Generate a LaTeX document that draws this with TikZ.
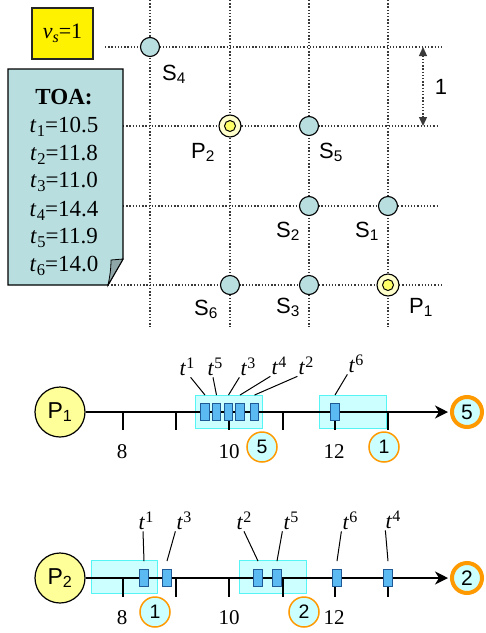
\documentclass[tikz,border=0pt]{standalone}
\usepackage{fontspec}
\setmainfont{Liberation Serif}
\setsansfont{Liberation Sans}
\usetikzlibrary{arrows.meta}
\definecolor{sens}{HTML}{B8DEE0}
\definecolor{ltyel}{HTML}{FFFF99}
\definecolor{ringyel}{HTML}{FFFFCC}
\definecolor{inyel}{HTML}{FFFF66}
\definecolor{org}{HTML}{FF9900}
\definecolor{cyfill}{HTML}{CCFFFF}
\definecolor{cyedge}{HTML}{55F5F5}
\definecolor{rblue}{HTML}{5BBAF2}
\definecolor{rblueedge}{HTML}{1F5A96}
\definecolor{foldc}{HTML}{8FA6A8}
\definecolor{dotc}{HTML}{3A3A3A}
\newcommand{\tsupl}[1]{\textit{t}\kern0.3pt\raisebox{7.5pt}{\fontsize{16}{16}\selectfont #1}}
\newcommand{\tsubl}[1]{\textit{t}\kern0.3pt\raisebox{-4.5pt}{\fontsize{16.5}{16.5}\selectfont #1}}
\begin{document}
\begin{tikzpicture}[x=1pt,y=-1pt,
 gridline/.style={dotc, line width=1.3pt, dash pattern=on 1.3pt off 1.9pt},
 sensor/.style={circle, draw, line width=1.1pt, fill=sens, minimum size=19pt, inner sep=0pt},
 pmark/.style={circle, draw, line width=1.1pt, fill=ringyel, minimum size=22pt, inner sep=0pt,
   path picture={\draw[line width=1pt, fill=inyel] (path picture bounding box.center) circle (5.5pt);}},
 slabel/.style={font=\sffamily\fontsize{22}{22}\selectfont, inner sep=0pt, anchor=base west},
 bigP/.style={circle, draw, line width=1.2pt, fill=ltyel, minimum size=50pt, inner sep=0pt, font=\sffamily\fontsize{23}{23}\selectfont},
 endc/.style={circle, draw=org, line width=4pt, fill=cyfill, minimum size=30pt, inner sep=0pt, font=\sffamily\fontsize{21}{21}\selectfont},
 smallc/.style={circle, draw=org, line width=1.5pt, fill=cyfill, minimum size=30pt, inner sep=0pt, font=\sffamily\fontsize{19.5}{19.5}\selectfont},
 cybox/.style={draw=cyedge, line width=1pt, fill=cyfill},
 tmark/.style={rectangle, draw=rblueedge, line width=0.9pt, fill=rblue, minimum width=8.5pt, minimum height=17pt, inner sep=0pt},
 tlab/.style={font=\fontsize{22}{22}\selectfont, inner sep=1pt},
 num/.style={font=\fontsize{21}{21}\selectfont, inner sep=0pt},
 toatext/.style={font=\fontsize{23}{23}\selectfont, inner sep=0pt, anchor=base},
 axisline/.style={line width=1.4pt, -{Stealth[length=13pt,width=13pt,inset=4pt]}, shorten >=2pt},
 tickline/.style={line width=1.4pt},
 leader/.style={line width=1pt},
]
\useasboundingbox (0,0) rectangle (486,633);
% ---------------- grid ----------------
\foreach \x in {150,230,309,388} \draw[gridline] (\x,0) -- (\x,327);
\draw[gridline] (105,47) -- (442,47);
\draw[gridline] (123,126) -- (439,126);
\draw[gridline] (123,206) -- (439,206);
\draw[gridline] (108,285) -- (442,285);
% dimension
\coordinate (d1) at (423,47);
\coordinate (d2) at (423,126);
\draw[gridline, {Triangle[length=9pt,width=8pt]}-{Triangle[length=9pt,width=8pt]}] (d1) -- (d2);
\node[font=\sffamily\fontsize{22}{22}\selectfont, inner sep=0pt] (dlab) at (441,87) {1};
% sensors
\node[sensor] (S4) at (150,47) {};
\node[pmark]  (P2m) at (230,126) {};
\node[sensor] (S5) at (309,126) {};
\node[sensor] (S2) at (309,206) {};
\node[sensor] (S1) at (388,206) {};
\node[sensor] (S6) at (230,285) {};
\node[sensor] (S3) at (309,285) {};
\node[pmark]  (P1m) at (388,285) {};
\node[slabel] (lS4) at (162,80) {S\textsubscript{4}};
\node[slabel] (lP2) at (191,158) {P\textsubscript{2}};
\node[slabel] (lS5) at (319,158) {S\textsubscript{5}};
\node[slabel] (lS2) at (276,237) {S\textsubscript{2}};
\node[slabel] (lS1) at (355,237) {S\textsubscript{1}};
\node[slabel] (lS6) at (194,315) {S\textsubscript{6}};
\node[slabel] (lS3) at (276,313) {S\textsubscript{3}};
\node[slabel] (lP1) at (409,313) {P\textsubscript{1}};
% vs box
\node[draw=black!85, line width=1.2pt, fill=yellow, minimum width=61pt, minimum height=51pt, inner sep=0pt,
      font=\fontsize{22}{22}\selectfont] (vs) at (62.5,33.5) {\textit{v}\raisebox{-4pt}{\fontsize{16}{16}\selectfont\textit{s}}=1};
% TOA note
\draw[line width=1.4pt, fill=sens] (8,69) -- (123,69) -- (123,259) -- (108,285) -- (8,285) -- cycle;
\draw[line width=0.8pt, fill=foldc] (123,259) -- (108,285) .. controls (110,276) and (111,268) .. (111,260) -- cycle;
\node[toatext, font=\bfseries\fontsize{23}{23}\selectfont] (toa0) at (64,104) {TOA:};
\node[toatext] (toa1) at (64,132) {\tsubl{1}=10.5};
\node[toatext] (toa2) at (64,160) {\tsubl{2}=11.8};
\node[toatext] (toa3) at (64,187) {\tsubl{3}=11.0};
\node[toatext] (toa4) at (64,216) {\tsubl{4}=14.4};
\node[toatext] (toa5) at (64,243) {\tsubl{5}=11.9};
\node[toatext] (toa6) at (64,271) {\tsubl{6}=14.0};
% ---------------- line for P1 ----------------
\fill[cybox] (195,395) rectangle (262,428);
\fill[cybox] (319,395) rectangle (386,428);
\draw[draw=cyedge, line width=1pt] (195,395) rectangle (262,428);
\draw[draw=cyedge, line width=1pt] (319,395) rectangle (386,428);
\node[bigP] (P1) at (60,412) {P\textsubscript{1}};
\node[endc] (E1) at (467,412) {5};
\draw[axisline] (P1) -- (E1);
\foreach \x in {123,176,229,283,335,388} \draw[tickline] (\x,413) -- (\x,430);
\node[tmark] (a1) at (205,412) {};
\node[tmark] (a5) at (216.5,412) {};
\node[tmark] (a3) at (228.5,412) {};
\node[tmark] (a4) at (240,412) {};
\node[tmark] (a2) at (254.5,412) {};
\node[tmark] (a6) at (335,412) {};
\node[tlab] (la1) at (187,367) {\tsupl{1}};
\node[tlab] (la5) at (215,367) {\tsupl{5}};
\node[tlab] (la3) at (248,367) {\tsupl{3}};
\node[tlab] (la4) at (279,366) {\tsupl{4}};
\node[tlab] (la2) at (306,366) {\tsupl{2}};
\node[tlab] (la6) at (356,364) {\tsupl{6}};
\draw[leader] (la1.south east) ++(-5pt,0) -- ([yshift=8pt]a1.north);
\draw[leader] (la5.south) ++(-2pt,0) -- ([yshift=8pt]a5.north);
\draw[leader] (la3.south west) -- ([yshift=8pt]a3.north);
\draw[leader] (la4.south west) -- ([yshift=8pt]a4.north);
\draw[leader] (la2.south west) -- ([yshift=8pt]a2.north);
\draw[leader] (la6.south west) -- ([yshift=8pt]a6.north);
\node[num] (n8a) at (122,452) {8};
\node[num] (n10a) at (229,452) {10};
\node[num] (n12a) at (334,452) {12};
\node[smallc] (c5a) at (262,447) {5};
\node[smallc] (c1a) at (384,447) {1};
% ---------------- line for P2 ----------------
\fill[cybox] (91,560) rectangle (157,593);
\fill[cybox] (239,560) rectangle (306,593);
\draw[draw=cyedge, line width=1pt] (91,560) rectangle (157,593);
\draw[draw=cyedge, line width=1pt] (239,560) rectangle (306,593);
\node[bigP] (P2) at (60,578) {P\textsubscript{2}};
\node[endc] (E2) at (467,578) {2};
\draw[axisline] (P2) -- (E2);
\foreach \x in {123,176,229,283,335,388} \draw[tickline] (\x,579) -- (\x,597);
\node[tmark] (b1) at (144,578) {};
\node[tmark] (b3) at (167,578) {};
\node[tmark] (b2) at (258,578) {};
\node[tmark] (b5) at (277,578) {};
\node[tmark] (b6) at (337,578) {};
\node[tmark] (b4) at (388,578) {};
\node[tlab] (lb1) at (146,521) {\tsupl{1}};
\node[tlab] (lb3) at (184,521) {\tsupl{3}};
\node[tlab] (lb2) at (244,521) {\tsupl{2}};
\node[tlab] (lb5) at (291,521) {\tsupl{5}};
\node[tlab] (lb6) at (350,521) {\tsupl{6}};
\node[tlab] (lb4) at (393,520) {\tsupl{4}};
\draw[leader] (lb1.south) ++(-3pt,0) -- ([yshift=8pt]b1.north);
\draw[leader] (lb3.south west) -- ([yshift=8pt]b3.north);
\draw[leader] (lb2.south) -- ([yshift=8pt]b2.north);
\draw[leader] (lb5.south west) -- ([yshift=8pt]b5.north);
\draw[leader] (lb6.south west) -- ([yshift=8pt]b6.north);
\draw[leader] (lb4.south west) ++(1pt,0) -- ([yshift=8pt]b4.north);
\node[num] (n8b) at (122,618) {8};
\node[num] (n10b) at (229,618) {10};
\node[num] (n12b) at (334,618) {12};
\node[smallc] (c1b) at (155,612) {1};
\node[smallc] (c2b) at (304,612) {2};
\end{tikzpicture}
\end{document}
